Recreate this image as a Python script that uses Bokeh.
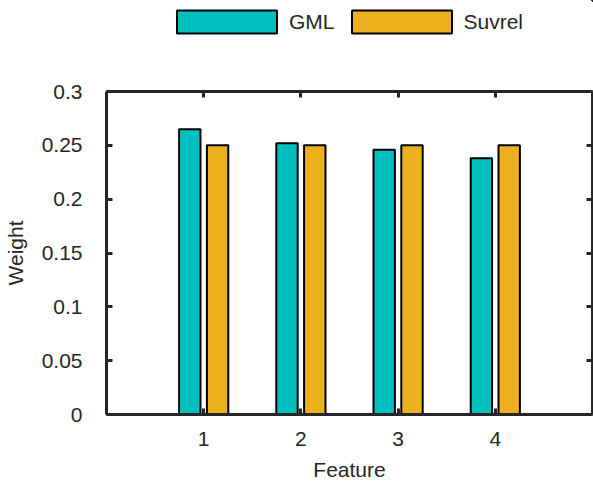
from bokeh.plotting import figure
from bokeh.layouts import column
from bokeh.models import (ColumnDataSource, Range1d, LinearAxis, FixedTicker,
                          Legend, LegendItem)
from bokeh.transform import dodge
from bokeh.embed import file_html
from bokeh.resources import INLINE

# ---- data ----
features = [1, 2, 3, 4]
gml = [0.265, 0.252, 0.246, 0.238]
suvrel = [0.25, 0.25, 0.25, 0.25]
series_names = ["GML", "Suvrel"]
y_ticks = [0, 0.05, 0.1, 0.15, 0.2, 0.25, 0.3]
y_tick_labels = ["0", "0.05", "0.1", "0.15", "0.2", "0.25", "0.3"]
x_tick_labels = ["1", "2", "3", "4"]

FONT = "Liberation Sans"
FS = "21px"
AX = "#262626"
C_GML = "#00BFBF"
C_SUV = "#EDB120"
LEG_H = 40

src = ColumnDataSource(dict(x=features, gml=gml, suvrel=suvrel))

# ---- legend strip (its glyphs lie outside its visible ranges; only the legend shows) ----
lf = figure(width=593, height=LEG_H, output_backend="svg", toolbar_location=None,
            x_range=Range1d(-101, -100), y_range=Range1d(-101, -100),
            min_border=0, x_axis_location=None, y_axis_location=None)
lf.grid.visible = False
lf.outline_line_color = None
l1 = lf.vbar(x="x", top="gml", width=0.1, source=src,
             fill_color=C_GML, line_color="black", line_width=2)
l2 = lf.vbar(x="x", top="suvrel", width=0.1, source=src,
             fill_color=C_SUV, line_color="black", line_width=2)
legend = Legend(items=[LegendItem(label=series_names[0], renderers=[l1]),
                       LegendItem(label=series_names[1], renderers=[l2])],
                orientation="horizontal", location=(58, 4),
                glyph_width=125, glyph_height=29, label_standoff=0,
                spacing=4, padding=0, margin=0, border_line_color=None,
                label_text_font=FONT, label_text_font_size=FS,
                label_text_color=AX, background_fill_alpha=0)
lf.add_layout(legend, "center")

# ---- main plot ----
p = figure(width=593, height=485 - LEG_H, output_backend="svg",
           toolbar_location=None,
           x_range=Range1d(0, 5), y_range=Range1d(0, 0.3),
           min_border_left=106, min_border_right=1, min_border_top=91 - LEG_H,
           min_border_bottom=71, x_axis_location=None, y_axis_location=None)
p.grid.visible = False
p.outline_line_color = None
p.background_fill_color = "white"
p.border_fill_color = "white"

r1 = p.vbar(x=dodge("x", -0.143, range=p.x_range), top="gml", width=0.22,
            source=src, fill_color=C_GML, line_color="black", line_width=2)
r2 = p.vbar(x=dodge("x", 0.143, range=p.x_range), top="suvrel", width=0.22,
            source=src, fill_color=C_SUV, line_color="black", line_width=2)


def style(ax):
    ax.axis_line_color = AX
    ax.axis_line_width = 3
    ax.major_tick_line_color = AX
    ax.major_tick_line_width = 3
    ax.major_tick_in = 6
    ax.major_tick_out = 0
    ax.minor_tick_line_color = None
    ax.major_label_text_font = FONT
    ax.major_label_text_font_size = FS
    ax.major_label_text_color = AX
    ax.axis_label_text_font = FONT
    ax.axis_label_text_font_size = FS
    ax.axis_label_text_font_style = "normal"
    ax.axis_label_text_color = AX


xb = LinearAxis(ticker=FixedTicker(ticks=features),
                major_label_overrides={f: l for f, l in zip(features, x_tick_labels)},
                axis_label="Feature")
style(xb)
xb.major_label_standoff = 17
xb.axis_label_standoff = 9
p.add_layout(xb, "below")

yl = LinearAxis(ticker=FixedTicker(ticks=y_ticks),
                major_label_overrides={t: l for t, l in zip(y_ticks, y_tick_labels)},
                axis_label="Weight")
style(yl)
yl.major_label_standoff = 24
yl.axis_label_standoff = 12
p.add_layout(yl, "left")

xt = LinearAxis(ticker=FixedTicker(ticks=features),
                major_label_overrides={f: "" for f in features})
style(xt)
xt.major_label_standoff = 0
xt.axis_label_standoff = 0
p.add_layout(xt, "above")

yr = LinearAxis(ticker=FixedTicker(ticks=y_ticks),
                major_label_overrides={t: "" for t in y_ticks})
style(yr)
yr.major_label_standoff = 0
yr.axis_label_standoff = 0
p.add_layout(yr, "right")

layout = column(lf, p, spacing=0)
open("out.html", "w").write(file_html(layout, INLINE))
